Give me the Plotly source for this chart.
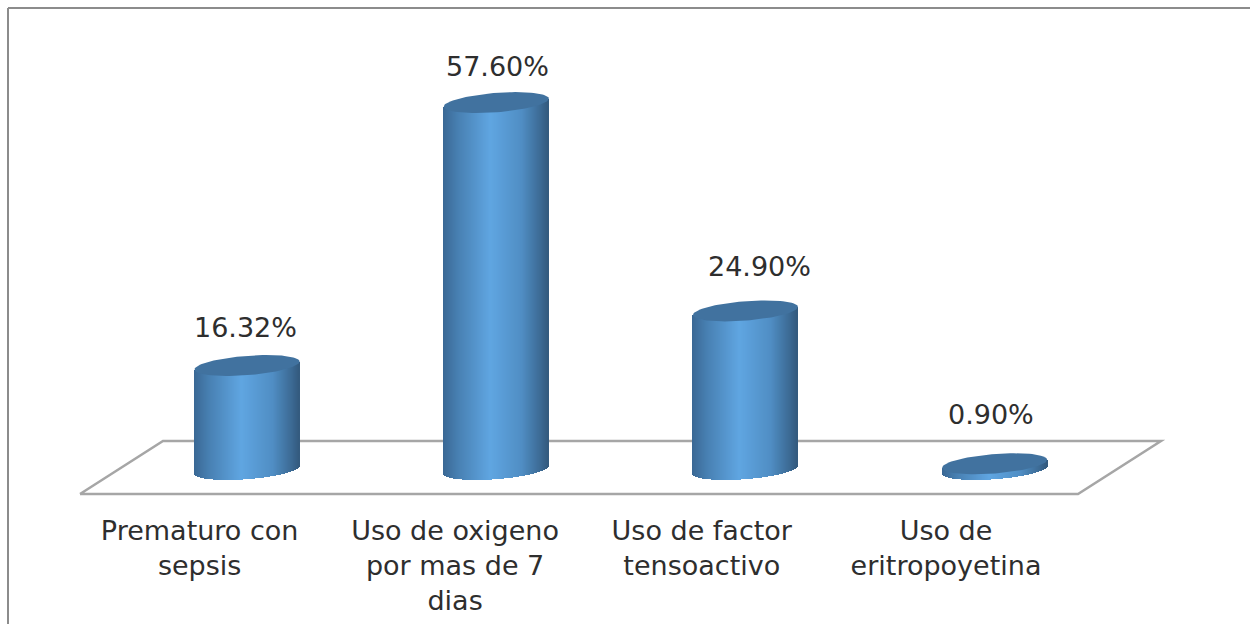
import numpy as np
import plotly.graph_objects as go

categories = ["Prematuro con<br>sepsis", "Uso de oxigeno<br>por mas de 7<br>dias",
              "Uso de factor<br>tensoactivo", "Uso de<br>eritropoyetina"]
values = [16.32, 57.60, 24.90, 0.90]
value_labels = ["16.32%", "57.60%", "24.90%", "0.90%"]

# styling / layout constants
W, H = 1250, 624
PLOT_BOTTOM = 508
PX_PER_UNIT = 6.37
BASE_PX = 469.5
X0_PX, STEP_PX = 247.0, 249.2
RADIUS_PX, RISE_PX, TILT_PX = 52.5, 9.7, 4.0
SLICES = 105
TICK_SHIFT = [-0.19, -0.165, -0.175, -0.195]
LABEL_DX = [-2, 1, 14, -4]
LABEL_LIFT = [38, 36, 44, 49]
TEXT = "#2e2e2e"
FONT = "DejaVu Sans"
GRAD = [(0.0, (58, 104, 148)), (0.14, (72, 128, 178)), (0.45, (96, 166, 226)),
        (0.75, (80, 142, 196)), (0.93, (60, 106, 148)), (1.0, (52, 90, 126))]
TOP_COLOR = "#41729f"
FLOOR = "#a6a6a6"


def px2x(p):
    return (p - X0_PX) / STEP_PX


def d2v(d):
    return d / PX_PER_UNIT


def grad(f):
    xs = [g[0] for g in GRAD]
    return "rgb(%d,%d,%d)" % tuple(np.interp(f, xs, [g[1][i] for g in GRAD]) for i in range(3))


fig = go.Figure()
radius_x = RADIUS_PX / STEP_PX
for i, v in enumerate(values):
    # body: thin vertical bars following the lower rim
    edges = np.linspace(-1, 1, SLICES + 1)
    u = (edges[:-1] + edges[1:]) / 2
    lower = -d2v(-TILT_PX * u + RISE_PX * np.sqrt(1 - u ** 2))
    upper = v + d2v(TILT_PX * u)
    fig.add_trace(go.Bar(
        x=i + u * radius_x, y=upper - lower, base=lower,
        width=2 * radius_x / SLICES,
        marker=dict(color=[grad((a + 1) / 2) for a in u], line_width=0),
        hoverinfo="skip", showlegend=False))
    # top rim
    t = np.linspace(0, 2 * np.pi, 90)
    fig.add_trace(go.Scatter(
        x=i + np.cos(t) * radius_x,
        y=v + d2v(TILT_PX * np.cos(t) + RISE_PX * np.sin(t)),
        mode="lines", fill="toself", fillcolor=TOP_COLOR, line=dict(width=0),
        hoverinfo="skip", showlegend=False))

for i, (v, s) in enumerate(zip(values, value_labels)):
    fig.add_annotation(x=i, y=v, text=s, showarrow=False, xshift=LABEL_DX[i], yshift=LABEL_LIFT[i],
                       font=dict(family=FONT, size=27, color=TEXT))

floor_px = [(80, 494), (163, 441), (1161, 441), (1078, 494), (80, 494)]
path = "M " + " L ".join(f"{px2x(a):.4f},{(BASE_PX - b) / PX_PER_UNIT:.4f}" for a, b in floor_px)
fig.add_shape(type="path", path=path, xref="x", yref="y", layer="below",
              line=dict(color=FLOOR, width=2.5), fillcolor="rgba(0,0,0,0)")
# outer frame: top and left edges
fig.add_shape(type="line", xref="paper", yref="paper", x0=8 / W, x1=1, y0=1 + 8 / PLOT_BOTTOM * -1,
              y1=1 - 8 / PLOT_BOTTOM, line=dict(color="#8c8c8c", width=2), layer="above")
fig.add_shape(type="line", xref="paper", yref="paper", x0=8 / W, x1=8 / W, y0=1 - 8 / PLOT_BOTTOM,
              y1=-(H - PLOT_BOTTOM) / PLOT_BOTTOM, line=dict(color="#8c8c8c", width=2), layer="above")

fig.update_layout(
    width=W, height=H, margin=dict(l=0, r=0, t=0, b=H - PLOT_BOTTOM),
    paper_bgcolor="white", plot_bgcolor="white", barmode="overlay", bargap=0,
    font=dict(family=FONT, color=TEXT),
    xaxis=dict(range=[px2x(0), px2x(W)], tickmode="array",
               tickvals=[i + TICK_SHIFT[i] for i in range(len(categories))], ticktext=categories,
               showgrid=False, zeroline=False, showline=False, ticks="", ticklen=0,
               ticklabelstandoff=4,
               tickangle=0, tickfont=dict(family=FONT, size=27, color=TEXT)),
    yaxis=dict(range=[(BASE_PX - PLOT_BOTTOM) / PX_PER_UNIT, BASE_PX / PX_PER_UNIT],
               visible=False),
)
fig.write_html("out.html", config=dict(displayModeBar=False),
               post_script="document.body.style.margin='0';document.body.style.overflow='hidden';")
